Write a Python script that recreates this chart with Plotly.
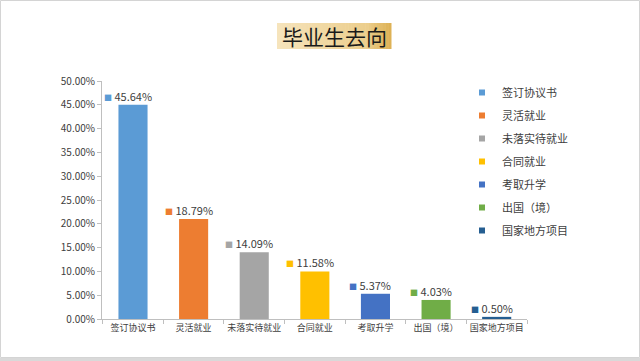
import plotly.graph_objects as go

categories = ["签订协议书", "灵活就业", "未落实待就业", "合同就业", "考取升学", "出国（境）", "国家地方项目"]
bar_heights = [45.0, 21.0, 14.0, 10.0, 5.3, 4.0, 0.45]
label_values = [45.64, 18.79, 14.09, 11.58, 5.37, 4.03, 0.50]
colors = ["#5B9BD5", "#ED7D31", "#A5A5A5", "#FFC000", "#4472C4", "#70AD47", "#255E91"]
y_ticks = [0, 5, 10, 15, 20, 25, 30, 35, 40, 45, 50]
title_text = "毕业生去向"

W, H = 640, 361
L, R, T, B = 102, 113, 81, 42
PW, PH = W - L - R, H - T - B

def px(x):
    return (x - L) / PW

def py(y):
    return (H - B - y) / PH

FONT = "Noto Sans CJK SC"

fig = go.Figure()
for i, (c, v, col) in enumerate(zip(categories, bar_heights, colors)):
    fig.add_trace(go.Bar(x=[c], y=[v], marker=dict(color=col, line=dict(width=0)),
                         width=0.48, showlegend=False, hoverinfo="skip"))
for i, (c, col) in enumerate(zip(categories, colors)):
    fig.add_trace(go.Scatter(x=[None], y=[None], mode="markers", name=c,
                             legendgroup=str(i),
                             marker=dict(symbol="square", size=6, color=col)))

annotations = []
for c, v, lv, col in zip(categories, bar_heights, label_values, colors):
    annotations.append(dict(
        x=c, y=v, xref="x", yref="y", showarrow=False,
        text=f'<span style="color:{col};font-size:8px">■</span> {lv:.2f}%',
        font=dict(family=FONT, size=11, color="#404040"),
        xanchor="center", yanchor="bottom", xshift=-5, yshift=-1,
    ))

annotations.append(dict(
    x=px(334), y=py(36), xref="paper", yref="paper", showarrow=False,
    text=title_text, font=dict(family=FONT, size=21, color="#1A1A1A"),
    xanchor="center", yanchor="middle",
))

shapes = []
# gradient title box
x0b, x1b, y0b, y1b = 277, 391, 23, 49
n = 40
c0 = (246, 228, 188)
c1 = (236, 206, 140)
c2 = (222, 178, 86)
for k in range(n):
    t = k / (n - 1)
    if t < 0.8:
        u = t / 0.8
        col = tuple(int(c0[j] + (c1[j] - c0[j]) * u) for j in range(3))
    else:
        u = (t - 0.8) / 0.2
        col = tuple(int(c1[j] + (c2[j] - c1[j]) * u) for j in range(3))
    xa = x0b + (x1b - x0b) * k / n
    xb = x0b + (x1b - x0b) * (k + 1) / n + 0.5
    shapes.append(dict(type="rect", xref="paper", yref="paper",
                       x0=px(xa), x1=px(xb), y0=py(y1b), y1=py(y0b),
                       fillcolor=f"rgb{col}", line=dict(width=0), layer="below"))
# outer frame
shapes.append(dict(type="rect", xref="paper", yref="paper",
                   x0=px(0.5), x1=px(639.5), y0=py(357.5), y1=py(0.5),
                   line=dict(color="#D4D4D4", width=1), fillcolor="rgba(0,0,0,0)"))
shapes.append(dict(type="rect", xref="paper", yref="paper",
                   x0=px(0), x1=px(640), y0=py(361), y1=py(358),
                   line=dict(width=0), fillcolor="#D9D9D9"))

fig.update_layout(
    width=W, height=H,
    margin=dict(l=L, r=R, t=T, b=B, autoexpand=False),
    paper_bgcolor="white", plot_bgcolor="white",
    barmode="overlay",
    font=dict(family=FONT, color="#404040", size=10),
    showlegend=True,
    legend=dict(x=px(462), y=py(78), xanchor="left", yanchor="top",
                font=dict(family=FONT, size=11, color="#404040"),
                bgcolor="rgba(0,0,0,0)", tracegroupgap=4, traceorder="grouped",
                itemwidth=30),
    annotations=annotations,
    shapes=shapes,
    xaxis=dict(type="category", categoryorder="array", categoryarray=categories,
               showline=True, linecolor="#BFBFBF", linewidth=1,
               ticks="outside", tickson="boundaries", ticklen=4, tickcolor="#BFBFBF",
               tickangle=0, automargin=False,
               tickfont=dict(family=FONT, size=9, color="#404040"),
               showgrid=False, zeroline=False, fixedrange=True),
    yaxis=dict(range=[0, 50], tickvals=y_ticks,
               ticktext=[f"{v:.2f}%" for v in y_ticks],
               showline=True, linecolor="#BFBFBF", linewidth=1,
               ticks="outside", ticklen=4, tickcolor="#BFBFBF",
               automargin=False,
               tickfont=dict(family=FONT, size=10, color="#404040"),
               showgrid=False, zeroline=False),
)

fig.write_html("out.html", config={"displayModeBar": False},
               post_script="document.body.style.margin='0';document.body.style.overflow='hidden';")
